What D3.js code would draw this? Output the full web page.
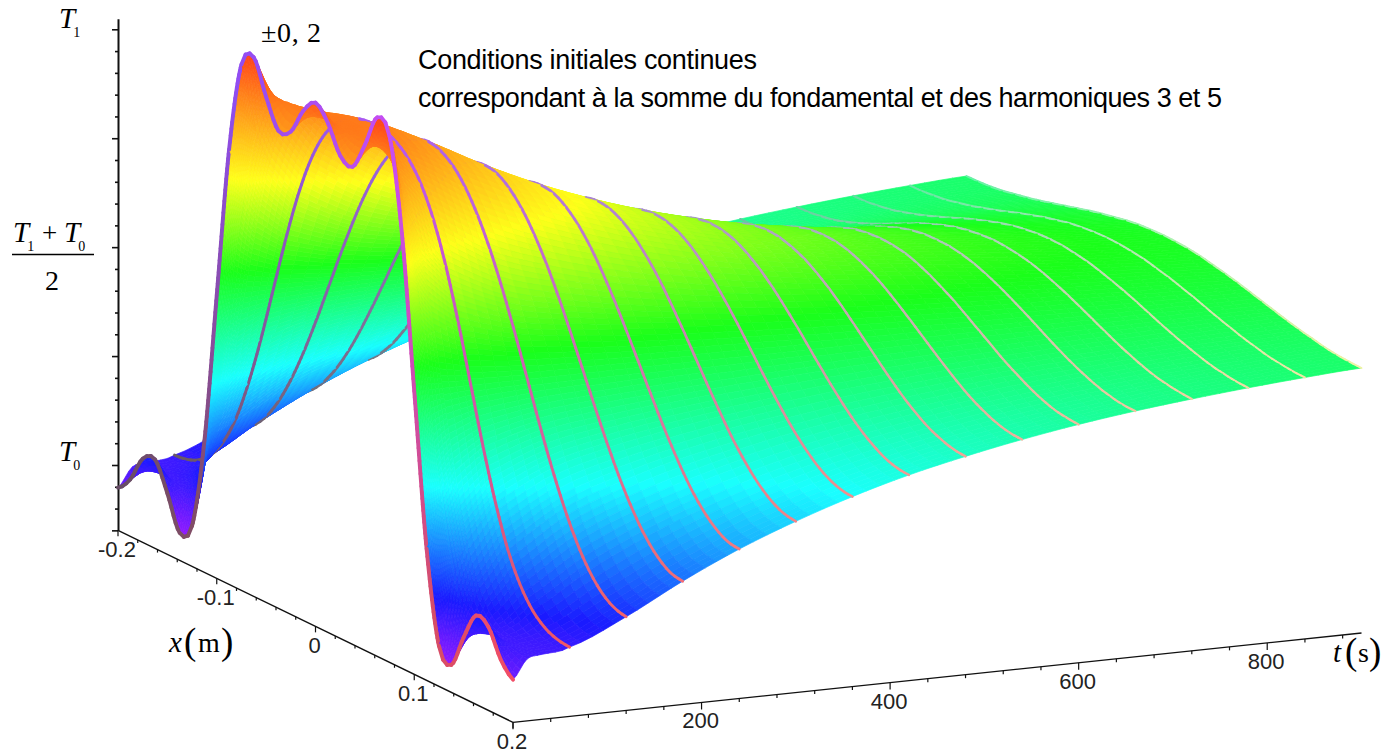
<!DOCTYPE html>
<meta charset="utf-8">
<script src="https://d3js.org/d3.v7.min.js"></script>
<style>
  html, body { margin: 0; background: #fff; }
  text { fill: #000; }
  .serif { font-family: "Liberation Serif", serif; }
  .sans { font-family: "Liberation Sans", sans-serif; }
</style>
<body>
<div id="my_dataviz"></div>
<script>

// position across the slab, metres
var xValues = [-0.2, -0.1875, -0.175, -0.1625, -0.15, -0.1375, -0.125, -0.1125, -0.1, -0.0875, -0.075, -0.0625, -0.05, -0.0375, -0.025, -0.0125, 0,
  0.0125, 0.025, 0.0375, 0.05, 0.0625, 0.075, 0.0875, 0.1, 0.1125, 0.125, 0.1375, 0.15, 0.1625, 0.175, 0.1875, 0.2];

// time of each profile, seconds (15 and 30 only shape the surface, they carry no line)
var tValues = [0, 15, 30, 60, 120, 180, 240, 300, 360, 420, 480, 540, 600, 660, 720, 780, 840, 900];
var tUnlined = [15, 30];

// temperature profiles, 0 = T0, 1 = T1
var T_0 = [-.052,-.019,.042,.054,-.010,-.087,-.057,.152,.5,.848,1.057,1.087,1.010,.946,.958,1.019,1.052,1.019,.958,.946,1.010,1.087,1.057,.848,.5,.152,-.057,-.087,-.010,.054,.042,-.019,-.052];
var T_15 = [-.008,-.002,.007,.007,-.001,.016,.099,.269,.5,.731,.901,.984,1.001,.993,.993,1.002,1.008,1.002,.993,.993,1.001,.984,.901,.731,.5,.269,.099,.016,-.001,.007,.007,-.002,-.008];
var T_30 = [-.001,.000,.004,.011,.032,.083,.179,.324,.5,.676,.821,.917,.968,.989,.996,1.000,1.001,1.000,.996,.989,.968,.917,.821,.676,.5,.324,.179,.083,.032,.011,.004,.000,-.001];
var T_60 = [.009,.013,.026,.052,.097,.164,.258,.372,.5,.628,.743,.836,.904,.948,.974,.987,.991,.987,.974,.948,.904,.836,.743,.628,.5,.372,.258,.164,.097,.052,.026,.013,.009];
var T_120 = [.065,.073,.094,.130,.181,.246,.323,.409,.5,.591,.677,.754,.819,.870,.906,.927,.935,.927,.906,.870,.819,.754,.677,.591,.5,.409,.323,.246,.181,.130,.094,.073,.065];
var T_180 = [.133,.139,.160,.193,.238,.293,.357,.427,.5,.573,.643,.707,.762,.807,.840,.861,.867,.861,.840,.807,.762,.707,.643,.573,.5,.427,.357,.293,.238,.193,.160,.139,.133];
var T_240 = [.193,.198,.216,.244,.282,.329,.382,.440,.5,.560,.618,.671,.718,.756,.784,.802,.807,.802,.784,.756,.718,.671,.618,.560,.5,.440,.382,.329,.282,.244,.216,.198,.193];
var T_300 = [.243,.248,.263,.287,.319,.357,.402,.450,.5,.550,.598,.643,.681,.713,.737,.752,.757,.752,.737,.713,.681,.643,.598,.550,.5,.450,.402,.357,.319,.287,.263,.248,.243];
var T_360 = [.286,.290,.302,.322,.349,.381,.418,.458,.5,.542,.582,.619,.651,.678,.698,.710,.714,.710,.698,.678,.651,.619,.582,.542,.5,.458,.418,.381,.349,.322,.302,.290,.286];
var T_420 = [.322,.325,.335,.352,.374,.401,.432,.465,.5,.535,.568,.599,.626,.648,.665,.675,.678,.675,.665,.648,.626,.599,.568,.535,.5,.465,.432,.401,.374,.352,.335,.325,.322];
var T_480 = [.351,.354,.363,.376,.395,.417,.443,.471,.5,.529,.557,.583,.605,.624,.637,.646,.649,.646,.637,.624,.605,.583,.557,.529,.5,.471,.443,.417,.395,.376,.363,.354,.351];
var T_540 = [.376,.378,.385,.397,.412,.431,.453,.476,.5,.524,.547,.569,.588,.603,.615,.622,.624,.622,.615,.603,.588,.569,.547,.524,.5,.476,.453,.431,.412,.397,.385,.378,.376];
var T_600 = [.397,.399,.404,.414,.427,.443,.460,.480,.5,.520,.540,.557,.573,.586,.596,.601,.603,.601,.596,.586,.573,.557,.540,.520,.5,.480,.460,.443,.427,.414,.404,.399,.397];
var T_660 = [.414,.415,.420,.428,.439,.452,.467,.483,.5,.517,.533,.548,.561,.572,.580,.585,.586,.585,.580,.572,.561,.548,.533,.517,.5,.483,.467,.452,.439,.428,.420,.415,.414];
var T_720 = [.428,.430,.434,.440,.449,.460,.472,.486,.5,.514,.528,.540,.551,.560,.566,.570,.572,.570,.566,.560,.551,.540,.528,.514,.5,.486,.472,.460,.449,.440,.434,.430,.428];
var T_780 = [.440,.441,.445,.450,.458,.467,.477,.488,.5,.512,.523,.533,.542,.550,.555,.559,.560,.559,.555,.550,.542,.533,.523,.512,.5,.488,.477,.467,.458,.450,.445,.441,.440];
var T_840 = [.450,.451,.454,.458,.465,.472,.481,.490,.5,.510,.519,.528,.535,.542,.546,.549,.550,.549,.546,.542,.535,.528,.519,.510,.5,.490,.481,.472,.465,.458,.454,.451,.450];
var T_900 = [.458,.459,.461,.465,.471,.477,.484,.492,.5,.508,.516,.523,.529,.535,.539,.541,.542,.541,.539,.535,.529,.523,.516,.508,.5,.492,.484,.477,.471,.465,.461,.459,.458];
var profiles = [T_0, T_15, T_30, T_60, T_120, T_180, T_240, T_300, T_360, T_420, T_480, T_540, T_600, T_660, T_720, T_780, T_840, T_900];

// ticks
var xTickLabels = ["-0.2", "-0.1", "0", "0.1", "0.2"];
var xMajor = [-0.2, -0.1, 0, 0.1, 0.2];
var xMinor = [-0.18, -0.16, -0.14, -0.12, -0.08, -0.06, -0.04, -0.02, 0.02, 0.04, 0.06, 0.08, 0.12, 0.14, 0.16, 0.18];
var tTickLabels = ["200", "400", "600", "800"];
var tMajor = [0, 200, 400, 600, 800];
var tMinor = [40, 80, 120, 160, 240, 280, 320, 360, 440, 480, 520, 560, 640, 680, 720, 760, 840, 880];
var zMajor = [-0.15, 0, 0.25, 0.5, 0.75, 1];
var zMinor = [-0.1, -0.05, 0.05, 0.1, 0.15, 0.2, 0.3, 0.35, 0.4, 0.45, 0.55, 0.6, 0.65, 0.7, 0.8, 0.85, 0.9, 0.95];

// oblique projection: every axis adds its own screen offset
var xToSx = d3.scaleLinear().domain([-0.2, 0.2]).range([0, 395]);
var xToSy = d3.scaleLinear().domain([-0.2, 0.2]).range([0, 192]);
var tToSx = d3.scaleLinear().domain([0, 900]).range([0, 848.5]);
var tToSy = d3.scaleLinear().domain([0, 900]).range([0, -89.4]);
var zToSy = d3.scaleLinear().domain([0, 1]).range([465, 29.3]);

function sx(x, t) { return 118 + xToSx(x) + tToSx(t); }
function sy(x, t, z) { return zToSy(z) + xToSy(x) + tToSy(t); }

// surface colour follows the height
var hue = d3.scaleLinear()
  .domain([-0.09, 0.05, 0.285, 0.553, 0.78, 1, 1.09])
  .range([272, 238, 180, 120, 60, 25, 10])
  .clamp(true);
function zColor(z) { return d3.hsl(hue(z), 1, 0.55).formatHex(); }

// mesh lines take their colour from x, t and height
var lineR = d3.scaleLinear().domain([-0.2, 0.2]).range([102, 242]);
var lineG = d3.scaleLinear().domain([0, 900]).range([77, 242]);
var lineB = d3.scaleLinear().domain([0, 1]).range([102, 242]).clamp(true);
var lineWidth = d3.scaleLinear().domain([0, 60, 900]).range([3.9, 3, 1.9]);

function spline(a, b, c, d, s) {
  return 0.5 * (2 * b + (c - a) * s + (2 * a - 5 * b + 4 * c - d) * s * s + (3 * b - a - 3 * c + d) * s * s * s);
}
function at(arr, i) { return arr[Math.max(0, Math.min(arr.length - 1, i))]; }

// height at fractional indices of xValues / tValues
function profileAt(row, u) {
  var i = Math.min(Math.floor(u), xValues.length - 2), s = u - i;
  return spline(at(row, i - 1), row[i], row[i + 1], at(row, i + 2), s);
}
function surfaceAt(u, v) {
  var j = Math.min(Math.floor(v), tValues.length - 2), s = v - j;
  return spline(
    profileAt(at(profiles, j - 1), u), profileAt(profiles[j], u),
    profileAt(profiles[j + 1], u), profileAt(at(profiles, j + 2), u), s);
}
var xOf = d3.scaleLinear().domain([0, xValues.length - 1]).range([-0.2, 0.2]);
var tOf = d3.scaleLinear().domain(d3.range(tValues.length)).range(tValues);
function point(u, v) {
  var z = surfaceAt(u, v);
  return [sx(xOf(u), tOf(v)), sy(xOf(u), tOf(v), z), z];
}

var svg = d3.select("#my_dataviz").append("svg")
  .attr("width", 1382).attr("height", 753)
  .style("display", "block");

// axes
var zAxisScale = d3.scaleLinear().domain([-0.15, 1.024]).range([zToSy(-0.15), zToSy(1.024)]);
var axisG = svg.append("g").attr("transform", "translate(118,0)");
axisG.call(d3.axisLeft(zAxisScale).tickValues(zMajor).tickSize(6).tickSizeOuter(0).tickFormat(""));
axisG.append("g").call(d3.axisLeft(zAxisScale).tickValues(zMinor).tickSize(3).tickSizeOuter(0).tickFormat(""))
  .select(".domain").remove();
axisG.selectAll("path,line").attr("stroke", "#111").attr("stroke-width", 1.6);
axisG.select(".domain").attr("stroke-width", 2);

var floorZ = -0.15;
var line = d3.line();
function segment(a, b, w) {
  svg.append("path").attr("d", line([a, b])).attr("stroke", "#111").attr("stroke-width", w).attr("fill", "none");
}
segment([sx(-0.2, 0), sy(-0.2, 0, floorZ)], [sx(0.2, 0), sy(0.2, 0, floorZ)], 1.4);
segment([sx(0.2, 0), sy(0.2, 0, floorZ)], [sx(0.2, 900), sy(0.2, 900, floorZ)], 1.4);
xMajor.forEach(function(v) { var p = [sx(v, 0), sy(v, 0, floorZ)]; segment(p, [p[0], p[1] + 6], 1.2); });
xMinor.forEach(function(v) { var p = [sx(v, 0), sy(v, 0, floorZ)]; segment(p, [p[0], p[1] + 3], 1.2); });
tMajor.forEach(function(v) { var p = [sx(0.2, v), sy(0.2, v, floorZ)]; segment(p, [p[0], p[1] + 7], 1.2); });
tMinor.forEach(function(v) { var p = [sx(0.2, v), sy(0.2, v, floorZ)]; segment(p, [p[0], p[1] + 3.5], 1.2); });

xMajor.forEach(function(v, i) {
  svg.append("text").attr("class", "sans").attr("x", sx(v, 0) - 1).attr("y", sy(v, 0, floorZ) + 27)
    .attr("text-anchor", "middle").attr("font-size", 22).style("fill", "#222").text(xTickLabels[i]);
});
tMajor.slice(1).forEach(function(v, i) {
  svg.append("text").attr("class", "sans").attr("x", sx(0.2, v) - 1).attr("y", sy(0.2, v, floorZ) + 26)
    .attr("text-anchor", "middle").attr("font-size", 22).style("fill", "#222").text(tTickLabels[i]);
});

// the surface, painted from far to near, profile lines woven in so the ridge hides them
var items = [];
function steps(dz, minN) { return Math.max(minN, Math.min(80, Math.ceil(Math.abs(dz) * 435 / 6))); }

function addProfile(i, j) {
  if (tUnlined.indexOf(tValues[j]) >= 0) return;
  var row = profiles[j];
  var n = steps(row[i + 1] - row[i], 3);
  for (var k = 0; k < n; k++) {
    var a = point(i + k / n, j), b = point(i + (k + 1) / n, j);
    var xm = xOf(i + (k + 0.5) / n), zm = (a[2] + b[2]) / 2;
    items.push({
      d: line([[a[0], a[1]], [b[0], b[1]]]),
      fill: "none",
      stroke: d3.rgb(lineR(xm), lineG(tValues[j]), lineB(zm)).formatHex(),
      width: lineWidth(tValues[j]),
      cap: "round"
    });
  }
}

for (var i = 0; i < xValues.length - 1; i++) {
  for (var j = tValues.length - 2; j >= 0; j--) {
    var dx = Math.max(Math.abs(profiles[j][i + 1] - profiles[j][i]), Math.abs(profiles[j + 1][i + 1] - profiles[j + 1][i]));
    var dt = Math.max(Math.abs(profiles[j + 1][i] - profiles[j][i]), Math.abs(profiles[j + 1][i + 1] - profiles[j][i + 1]));
    var nx = steps(dx, 3), nt = steps(dt, 4);
    for (var a = 0; a < nx; a++) {
      for (var b = nt - 1; b >= 0; b--) {
        var u0 = i + a / nx, u1 = i + (a + 1) / nx, v0 = j + b / nt, v1 = j + (b + 1) / nt;
        var p00 = point(u0, v0), p10 = point(u1, v0), p11 = point(u1, v1), p01 = point(u0, v1);
        var c = zColor((p00[2] + p10[2] + p11[2] + p01[2]) / 4);
        items.push({
          d: line([p00, p10, p11, p01].map(function(p) { return [p[0], p[1]]; })) + "Z",
          fill: c, stroke: c, width: 0.7, cap: "butt"
        });
      }
    }
    addProfile(i, j + 1);
  }
  addProfile(i, 0);
}

svg.append("g").selectAll("path").data(items).join("path")
  .attr("d", function(d) { return d.d; })
  .attr("fill", function(d) { return d.fill; })
  .attr("stroke", function(d) { return d.stroke; })
  .attr("stroke-width", function(d) { return d.width; })
  .attr("stroke-linecap", function(d) { return d.cap; });

// labels
function label(cls, x, y, size, str, italic, len) {
  var el = svg.append("text").attr("class", cls).attr("x", x).attr("y", y)
    .attr("font-size", size).text(str);
  if (italic) el.attr("font-style", "italic");
  if (len) el.attr("textLength", len).attr("lengthAdjust", "spacing");
  return el;
}
// T with its index, one text element
function tempLabel(x, y, index) {
  var el = svg.append("text").attr("class", "serif").attr("x", x).attr("y", y).attr("font-size", 29);
  el.append("tspan").attr("font-style", "italic").text("T");
  el.append("tspan").attr("font-size", 14).attr("dx", -2).attr("dy", 9).text(index);
}

tempLabel(59, 28, "1");
tempLabel(13, 242, "1");
label("serif", 42, 242, 27, "+");
tempLabel(64, 242, "0");
svg.append("path").attr("d", line([[12, 254.5], [94, 254.5]])).attr("stroke", "#000").attr("stroke-width", 1.6);
label("serif", 45, 290, 28, "2");
tempLabel(59, 461, "0");
label("serif", 261, 41.5, 28, "\u00b10, 2", false, 60);

label("sans", 418, 69, 27, "Conditions initiales continues", false, 339);
label("sans", 418, 107, 27, "correspondant \u00e0 la somme du fondamental et des harmoniques 3 et 5", false, 804);

label("serif", 169, 652, 29, "x", true);
label("serif", 184, 654, 37, "(");
label("serif", 198, 652, 28, "m");
label("serif", 221, 654, 37, ")");
label("serif", 1333, 662, 29, "t", true);
label("serif", 1345, 664, 37, "(");
label("serif", 1358, 662, 28, "s");
label("serif", 1369, 664, 37, ")");

</script>
</body>
